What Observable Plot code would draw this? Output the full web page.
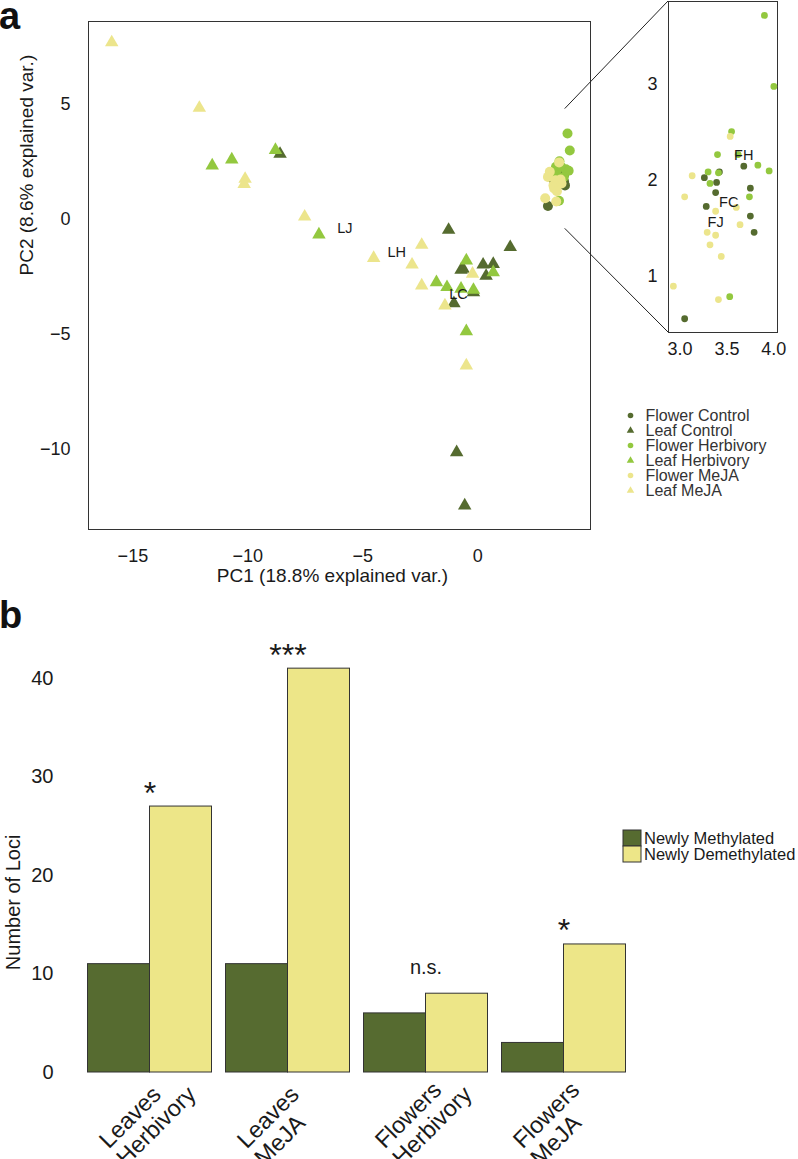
<!DOCTYPE html>
<html>
<head>
<meta charset="utf-8">
<script src="https://cdn.jsdelivr.net/npm/d3@7"></script>
<script src="https://cdn.jsdelivr.net/npm/@observablehq/plot@0.6"></script>
<style>
html, body { margin: 0; padding: 0; background: #fff; }
#root { position: relative; width: 798px; height: 1159px; overflow: hidden; font-family: "Liberation Sans", Arial, Helvetica, sans-serif; }
#root > * { position: absolute; max-width: none; }
</style>
</head>
<body>
<div id="root"></div>
<script>
// ---------------- Panel a: PCA ----------------
const groups = ["Flower Control", "Leaf Control", "Flower Herbivory", "Leaf Herbivory", "Flower MeJA", "Leaf MeJA"];
const groupColors = ["#556b2f", "#556b2f", "#93c83f", "#93c83f", "#ece58c", "#ece58c"];
const groupSymbols = ["circle", "triangle", "circle", "triangle", "circle", "triangle"];

// Leaf samples (triangles)
const leafGroup = [
  "Leaf Control","Leaf Control","Leaf Control","Leaf Control","Leaf Control","Leaf Control",
  "Leaf Control","Leaf Control","Leaf Control","Leaf Control","Leaf Control","Leaf Control",
  "Leaf Herbivory","Leaf Herbivory","Leaf Herbivory","Leaf Herbivory","Leaf Herbivory","Leaf Herbivory",
  "Leaf Herbivory","Leaf Herbivory","Leaf Herbivory","Leaf Herbivory","Leaf Herbivory",
  "Leaf MeJA","Leaf MeJA","Leaf MeJA","Leaf MeJA","Leaf MeJA","Leaf MeJA",
  "Leaf MeJA","Leaf MeJA","Leaf MeJA","Leaf MeJA","Leaf MeJA","Leaf MeJA"
];
const leafPC1 = [
  -8.60, -1.27, 1.41, -0.73, -0.64, 0.23, 0.67, 0.36, -0.19, -1.04, -0.92, -0.57,
  -11.55, -10.70, -8.80, -6.91, -0.50, -1.80, -1.34, -0.73, -0.19, 0.67, -0.50,
  -15.92, -12.11, -10.12, -10.16, -7.53, -4.53, -2.44, -2.86, -0.23, -2.44, -1.43, -0.50
];
const leafPC2 = [
  2.83, -0.48, -1.23, -2.22, -2.17, -1.99, -1.96, -2.48, -3.19, -3.67, -10.15, -12.47,
  2.32, 2.58, 3.00, -0.68, -1.81, -2.76, -2.97, -3.04, -3.09, -2.32, -4.89,
  7.68, 4.83, 1.74, 1.52, 0.10, -1.70, -1.13, -1.99, -2.39, -2.90, -3.77, -6.38
];

// Flower samples (circles)
const flowerGroup = [
  "Flower Control","Flower Control","Flower Control","Flower Control","Flower Control",
  "Flower Control","Flower Control","Flower Control","Flower Control","Flower Control",
  "Flower Herbivory","Flower Herbivory","Flower Herbivory","Flower Herbivory","Flower Herbivory","Flower Herbivory",
  "Flower Herbivory","Flower Herbivory","Flower Herbivory","Flower Herbivory","Flower Herbivory","Flower Herbivory",
  "Flower MeJA","Flower MeJA","Flower MeJA","Flower MeJA","Flower MeJA","Flower MeJA",
  "Flower MeJA","Flower MeJA","Flower MeJA","Flower MeJA","Flower MeJA","Flower MeJA"
];
const flowerPC1 = [
  3.68, 3.42, 3.26, 3.39, 3.75, 3.38, 3.28, 3.75, 3.79, 3.05,
  3.90, 4.00, 3.55, 3.40, 3.62, 3.83, 3.95, 3.30, 3.41, 3.32, 3.74, 3.53,
  3.535, 3.13, 3.05, 3.60, 3.38, 3.64, 3.29, 3.38, 3.32, 3.44, 2.93, 3.41
];
const flowerPC2 = [
  2.15, 2.09, 2.03, 1.98, 1.92, 1.875, 1.73, 1.63, 1.46, 0.56,
  3.72, 2.98, 2.51, 2.27, 2.27, 2.16, 2.10, 2.09, 2.08, 1.97, 1.83, 0.79,
  2.46, 2.05, 1.83, 1.72, 1.68, 1.54, 1.46, 1.43, 1.33, 1.21, 0.90, 0.76
];

// Group centroid labels
const leafLabels = ["LJ", "LH", "LC"];
const leafLabelPC1 = [-5.78, -3.53, -0.84];
const leafLabelPC2 = [-0.41, -1.45, -3.29];
const flowerLabels = ["FH", "FC", "FJ"];
const flowerLabelPC1 = [3.68, 3.52, 3.38];
const flowerLabelPC2 = [2.26, 1.77, 1.56];

const pc1Ticks = [-15, -10, -5, 0];
const pc2Ticks = [-10, -5, 0, 5];
const insetPC1Ticks = [3.0, 3.5, 4.0];
const insetPC2Ticks = [1, 2, 3];
const pc1Label = "PC1 (18.8% explained var.)";
const pc2Label = "PC2 (8.6% explained var.)";
// region of the main plot that is magnified in the inset
const zoomPC1 = 3.8;
const zoomPC2 = [4.78, -0.43];

// ---------------- Panel b: bars ----------------
const comparisons = ["Leaves\nHerbivory", "Leaves\nMeJA", "Flowers\nHerbivory", "Flowers\nMeJA"];
const changeTypes = ["Newly Methylated", "Newly Demethylated"];
const barColors = ["#566b30", "#ede688"];
const newlyMethylated = [11, 11, 6, 3];
const newlyDemethylated = [27, 41, 8, 13];
const significance = ["*", "***", "n.s.", "*"];
const lociTicks = [0, 10, 20, 30, 40];
const lociLabel = "Number of Loci";

// ---------------- build ----------------
const font = '"Liberation Sans", Arial, Helvetica, sans-serif';
const ink = "#1a1a1a";
const root = document.getElementById("root");

const leafData = leafPC1.map((v, i) => ({pc1: v, pc2: leafPC2[i], group: leafGroup[i]}));
const flowerData = flowerPC1.map((v, i) => ({pc1: v, pc2: flowerPC2[i], group: flowerGroup[i]}));
const leafLabelData = leafLabels.map((t, i) => ({t, pc1: leafLabelPC1[i], pc2: leafLabelPC2[i]}));
const flowerLabelData = flowerLabels.map((t, i) => ({t, pc1: flowerLabelPC1[i], pc2: flowerLabelPC2[i]}));

const colorScale = {domain: groups, range: groupColors};
const symbolScale = {domain: groups, range: groupSymbols};

function place(el, left, top) {
  el.style.left = left + "px";
  el.style.top = top + "px";
  root.appendChild(el);
  return el;
}

// main PCA plot
const mainLeft = 0, mainTop = 0;
const main = Plot.plot({
  width: 600, height: 600,
  marginLeft: 88, marginRight: 10, marginTop: 21, marginBottom: 71,
  x: {domain: [-16.93, 4.90], label: null},
  y: {domain: [-13.51, 8.59], label: null},
  color: colorScale,
  symbol: symbolScale,
  style: {fontFamily: font, fontSize: "19px", color: ink, background: "transparent"},
  marks: [
    Plot.frame({stroke: "#333", strokeWidth: 1}),
    Plot.axisX({ticks: pc1Ticks, tickSize: 0, tickPadding: 20, fontSize: 18, label: null}),
    Plot.axisY({ticks: pc2Ticks, tickSize: 0, tickPadding: 18, fontSize: 18, label: null}),
    Plot.dot(leafData, {x: "pc1", y: "pc2", symbol: "group", fill: "group", r: 5}),
    Plot.dot(flowerData, {x: "pc1", y: "pc2", symbol: "group", fill: "group", r: 5}),
    Plot.text(leafLabelData, {x: "pc1", y: "pc2", text: "t", fontSize: 14.5, fill: ink}),
    Plot.text([pc1Label], {text: d => d, frameAnchor: "bottom", lineAnchor: "bottom", dx: -7, dy: 52}),
    Plot.text([pc2Label], {text: d => d, frameAnchor: "left", rotate: -90, lineAnchor: "bottom", dx: -56})
  ]
});
place(main, mainLeft, mainTop);

// inset
const insetLeft = 640, insetTop = 0;
const inset = Plot.plot({
  width: 158, height: 370,
  marginLeft: 28, marginRight: 21, marginTop: 1, marginBottom: 38,
  x: {domain: [2.878, 4.039], ticks: insetPC1Ticks, tickFormat: d3.format(".1f"), tickSize: 0, tickPadding: 10, label: null},
  y: {domain: [0.417, 3.865], ticks: insetPC2Ticks, tickFormat: d3.format("d"), tickSize: 0, tickPadding: 11, label: null},
  color: colorScale,
  symbol: symbolScale,
  style: {fontFamily: font, fontSize: "18px", color: ink, background: "transparent"},
  marks: [
    Plot.frame({stroke: "#333", strokeWidth: 1}),
    Plot.dot(flowerData, {x: "pc1", y: "pc2", symbol: "group", fill: "group", r: 3.4}),
    Plot.text(flowerLabelData, {x: "pc1", y: "pc2", text: "t", fontSize: 14.5, fill: ink})
  ]
});
place(inset, insetLeft, insetTop);

// legend a
const legendA = Plot.plot({
  width: 198, height: 130, margin: 0,
  x: {domain: [0, 1], axis: null},
  y: {type: "point", domain: groups, range: [27.3, 117.3], axis: null},
  color: colorScale,
  symbol: symbolScale,
  style: {fontFamily: font, fontSize: "16px", color: "#333", background: "transparent"},
  marks: [
    Plot.dot(groups, {y: d => d, frameAnchor: "left", dx: 30, symbol: d => d, fill: d => d, r: 2.8}),
    Plot.text(groups, {y: d => d, text: d => d, frameAnchor: "left", dx: 45, textAnchor: "start"})
  ]
});
place(legendA, 600, 380);

// bar chart
const barRows = comparisons.flatMap((c, i) => [
  {comparison: c, type: changeTypes[0], loci: newlyMethylated[i]},
  {comparison: c, type: changeTypes[1], loci: newlyDemethylated[i]}
]);
const sigRows = comparisons.map((c, i) => ({
  comparison: c, label: significance[i], top: Math.max(newlyMethylated[i], newlyDemethylated[i])
}));

const bars = Plot.plot({
  width: 798, height: 539,
  marginLeft: 85.5, marginRight: 170.5, marginTop: 8.75, marginBottom: 87,
  fx: {domain: comparisons, paddingInner: 0.096, paddingOuter: 0, axis: null, label: null},
  x: {domain: changeTypes, padding: 0, axis: null, label: null},
  y: {domain: [0, 45], ticks: lociTicks, tickSize: 0, tickPadding: 34, label: null},
  color: {domain: changeTypes, range: barColors},
  style: {fontFamily: font, fontSize: "20px", color: ink, background: "transparent"},
  marks: [
    Plot.barY(barRows, {fx: "comparison", x: "type", y: "loci", fill: "type", stroke: "#333", strokeWidth: 1}),
    Plot.text(sigRows.filter(d => d.label !== "n.s."), {fx: "comparison", y: "top", text: "label", fontSize: 32, lineAnchor: "bottom", dy: -3}),
    Plot.text(sigRows.filter(d => d.label === "n.s."), {fx: "comparison", y: "top", text: "label", fontSize: 20, lineAnchor: "bottom", dy: -19.6}),
    Plot.text(comparisons, {fx: d => d, text: d => d, frameAnchor: "bottom", rotate: -45, textAnchor: "start", lineAnchor: "bottom", lineHeight: 1.05, fontSize: 23.5, dx: -23.9, dy: 94.5}),
    Plot.text([comparisons[0]], {fx: d => d, text: () => lociLabel, frameAnchor: "left", rotate: -90, textAnchor: "middle", lineAnchor: "bottom", dx: -67.5, dy: 51.5})
  ]
});
place(bars, 0, 620);

// legend b
const legendB = Plot.plot({
  width: 180, height: 40,
  marginLeft: 5.4, marginRight: 156.6, marginTop: 3, marginBottom: 3.2,
  x: {domain: ["swatch"], padding: 0, axis: null},
  y: {domain: changeTypes, padding: 0, axis: null},
  color: {domain: changeTypes, range: barColors},
  style: {fontFamily: font, fontSize: "16.5px", color: ink, background: "transparent"},
  marks: [
    Plot.cell(changeTypes, {x: () => "swatch", y: d => d, fill: d => d, stroke: "#333", strokeWidth: 1}),
    Plot.text(changeTypes, {x: () => "swatch", y: d => d, text: d => d, dx: 11.5, textAnchor: "start"})
  ]
});
place(legendB, 618, 826);

// overlay: zoom connectors + panel letters
const mx = main.scale("x"), my = main.scale("y");
const ix = inset.scale("x"), iy = inset.scale("y");
const fromX = mainLeft + mx.apply(zoomPC1);
const fromY = zoomPC2.map(v => mainTop + my.apply(v));
const toX = insetLeft + ix.apply(ix.domain[0]);
const toY = [insetTop + iy.apply(iy.domain[1]), insetTop + iy.apply(iy.domain[0])];

const overlay = d3.create("svg")
  .attr("width", 798).attr("height", 1159)
  .style("pointer-events", "none")
  .style("overflow", "visible");
overlay.selectAll("line").data([0, 1]).join("line")
  .attr("x1", fromX).attr("y1", i => fromY[i])
  .attr("x2", toX).attr("y2", i => toY[i])
  .attr("stroke", "#222").attr("stroke-width", 1);
overlay.selectAll("text").data([{t: "a", y: 29}, {t: "b", y: 628}]).join("text")
  .attr("x", -1).attr("y", d => d.y)
  .attr("font-family", font).attr("font-weight", "bold").attr("font-size", 38)
  .attr("fill", "#111")
  .text(d => d.t);
place(overlay.node(), 0, 0);
</script>
</body>
</html>
